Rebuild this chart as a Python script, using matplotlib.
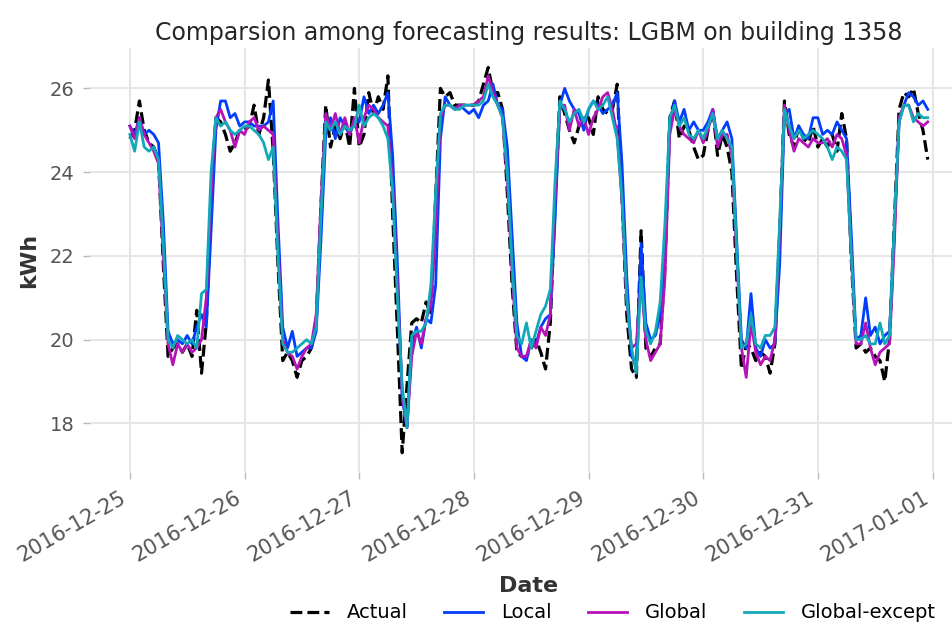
"""Comparison plot of hourly load forecasts (LGBM, building 1358)"""
import pandas as pd
import matplotlib
matplotlib.use('Agg')
import matplotlib.pyplot as plt
import matplotlib.dates as mdates


### data (hourly kWh, 2016-12-25 00:00 onwards, one row per day) ###

start = '2016-12-25'

actual = [
    24.8, 25.0, 25.7, 25.0, 24.7, 24.6, 24.3, 21.8, 19.6, 19.8, 19.9, 19.7, 19.9, 19.6, 20.7, 19.2, 20.4, 23.5, 25.3, 25.2, 24.9, 24.5, 24.7, 25.0,
    25.0, 25.1, 25.6, 24.9, 25.3, 26.2, 24.5, 21.8, 19.5, 19.7, 19.5, 19.1, 19.5, 19.6, 19.8, 20.4, 23.2, 25.6, 24.6, 25.1, 24.8, 25.2, 24.6, 26.0,
    24.6, 24.9, 25.9, 25.4, 25.8, 25.5, 26.3, 23.0, 20.2, 17.3, 18.9, 20.4, 20.5, 20.4, 20.9, 20.6, 23.4, 26.0, 25.8, 25.9, 25.6, 25.6, 25.6, 25.6,
    25.6, 25.7, 26.1, 26.5, 25.9, 25.9, 25.5, 23.5, 21.3, 19.7, 19.6, 19.6, 19.8, 20.0, 19.7, 19.3, 20.4, 23.3, 25.8, 25.4, 25.0, 24.7, 25.1, 25.3,
    25.3, 24.9, 25.8, 25.5, 25.4, 25.5, 26.1, 23.4, 20.6, 19.3, 19.1, 22.6, 19.8, 19.6, 19.8, 19.9, 21.8, 25.3, 25.7, 24.8, 25.1, 25.0, 24.6, 24.3,
    24.4, 25.0, 25.5, 24.4, 24.9, 24.6, 24.0, 21.5, 19.3, 19.9, 19.8, 19.5, 19.7, 19.6, 19.2, 19.9, 22.5, 25.7, 24.9, 24.6, 25.1, 24.8, 24.7, 25.1,
    24.6, 24.8, 24.6, 24.9, 24.5, 25.4, 24.8, 21.9, 19.8, 19.9, 19.7, 19.8, 19.6, 19.5, 19.0, 20.0, 22.8, 25.5, 25.9, 25.8, 26.0, 25.4, 25.0, 24.3,
]

local = [
    25.1, 24.9, 25.3, 24.9, 25.0, 24.9, 24.7, 22.8, 20.2, 19.9, 20.0, 19.9, 20.1, 19.9, 20.3, 20.6, 20.3, 22.6, 25.0, 25.7, 25.7, 25.3, 25.4, 25.1,
    25.2, 25.2, 25.1, 25.1, 25.1, 25.2, 25.7, 22.8, 20.3, 19.8, 20.2, 19.6, 19.7, 19.8, 19.8, 20.2, 22.4, 24.9, 25.3, 24.8, 25.3, 25.1, 24.9, 25.2,
    25.2, 25.8, 25.4, 25.6, 25.4, 25.6, 25.9, 24.4, 21.8, 18.6, 17.9, 19.9, 20.3, 19.8, 20.5, 20.4, 21.3, 24.8, 25.8, 25.6, 25.5, 25.6, 25.5, 25.4,
    25.5, 25.3, 25.6, 25.7, 26.1, 25.6, 25.5, 24.6, 22.5, 20.4, 19.6, 19.5, 20.0, 19.9, 20.3, 20.5, 20.6, 22.9, 25.6, 26.0, 25.7, 25.5, 25.4, 25.0,
    25.5, 25.7, 25.6, 25.4, 25.5, 25.6, 25.9, 24.2, 21.5, 19.6, 19.4, 22.3, 20.4, 20.0, 20.1, 20.6, 22.0, 25.2, 25.7, 25.2, 25.5, 25.0, 25.2, 25.0,
    25.0, 25.2, 25.5, 24.8, 25.0, 25.2, 24.8, 22.4, 20.0, 19.8, 21.1, 19.8, 19.6, 20.0, 19.8, 19.9, 21.8, 25.4, 25.5, 24.8, 25.1, 24.9, 24.8, 25.3,
    25.3, 24.9, 25.0, 24.9, 25.2, 25.0, 24.8, 22.5, 20.0, 20.1, 21.0, 20.1, 20.3, 19.9, 20.1, 20.2, 22.6, 25.2, 25.6, 25.9, 25.8, 25.6, 25.7, 25.5,
]

glob = [
    25.1, 24.8, 25.3, 24.9, 24.7, 24.5, 24.2, 22.0, 19.9, 19.4, 19.9, 19.7, 19.9, 19.7, 19.8, 20.0, 21.0, 23.5, 25.3, 25.5, 25.2, 25.0, 24.6, 25.0,
    24.9, 25.2, 25.3, 25.0, 25.1, 25.0, 24.9, 22.3, 20.0, 19.7, 19.6, 19.3, 19.6, 19.8, 19.9, 20.6, 23.3, 25.4, 25.0, 25.4, 24.9, 25.3, 24.9, 25.3,
    24.7, 25.3, 25.6, 25.5, 25.3, 25.2, 25.1, 23.7, 21.3, 18.7, 17.9, 19.6, 20.2, 19.9, 20.5, 20.8, 22.6, 25.3, 25.6, 25.6, 25.5, 25.6, 25.6, 25.6,
    25.6, 25.7, 25.8, 26.3, 25.9, 25.6, 25.3, 23.8, 21.6, 19.8, 19.6, 19.6, 20.0, 19.8, 20.3, 20.1, 20.6, 23.4, 25.5, 25.6, 25.0, 25.5, 25.1, 25.3,
    24.9, 25.3, 25.5, 25.8, 25.9, 25.5, 24.9, 23.3, 20.9, 19.8, 19.9, 21.4, 20.0, 19.5, 19.7, 19.9, 21.5, 24.9, 25.5, 25.1, 24.9, 24.8, 24.7, 25.0,
    24.7, 25.0, 25.5, 24.6, 24.9, 24.9, 24.4, 22.0, 19.8, 19.1, 20.4, 19.7, 19.4, 19.6, 19.5, 20.0, 22.6, 25.6, 25.0, 24.5, 24.8, 24.7, 24.6, 24.8,
    24.7, 24.7, 24.8, 24.6, 24.9, 24.8, 24.4, 22.0, 19.9, 19.9, 20.4, 19.8, 19.4, 19.7, 19.8, 19.9, 22.3, 25.3, 25.6, 25.6, 25.3, 25.2, 25.1, 25.2,
]

glob_except = [
    24.9, 24.5, 25.2, 24.6, 24.5, 24.6, 24.3, 22.3, 20.0, 19.8, 20.1, 20.0, 19.9, 20.0, 19.8, 21.1, 21.2, 24.0, 25.3, 25.1, 25.2, 25.0, 24.9, 25.0,
    25.1, 25.1, 25.0, 24.9, 24.7, 24.3, 24.6, 22.0, 19.9, 19.7, 19.7, 19.8, 19.9, 20.0, 19.9, 20.3, 23.0, 25.2, 25.0, 25.2, 24.9, 25.1, 25.0, 25.1,
    25.6, 25.1, 25.3, 25.4, 25.3, 25.1, 24.8, 23.5, 21.0, 18.9, 17.9, 20.1, 20.2, 20.2, 20.4, 21.3, 23.5, 25.4, 25.6, 25.6, 25.5, 25.5, 25.6, 25.6,
    25.6, 25.6, 25.7, 26.1, 25.8, 25.6, 25.3, 24.0, 21.8, 20.1, 19.9, 20.4, 19.8, 20.2, 20.6, 20.8, 21.2, 23.8, 25.7, 25.5, 25.2, 25.4, 25.5, 25.2,
    25.5, 25.7, 25.5, 25.6, 25.8, 25.3, 24.8, 23.4, 21.0, 19.8, 19.2, 21.5, 20.2, 19.9, 20.2, 20.9, 22.8, 25.3, 25.6, 25.1, 25.3, 24.9, 24.8, 25.0,
    24.8, 25.1, 25.4, 24.8, 25.0, 24.8, 24.6, 22.2, 19.8, 19.9, 20.6, 19.9, 19.8, 20.1, 20.1, 20.3, 22.8, 25.5, 25.1, 24.8, 25.0, 24.8, 24.9, 25.0,
    24.9, 24.8, 24.6, 24.3, 24.6, 24.5, 24.3, 22.0, 20.0, 20.0, 20.1, 19.9, 19.9, 20.4, 19.9, 20.1, 22.8, 25.2, 25.6, 25.6, 25.2, 25.4, 25.3, 25.3,
]

dates = pd.date_range(start, periods=len(actual), freq='h')


### plot (darts-like look) ###

fig = plt.figure(figsize=(9.53, 6.26), dpi=100)
# axes runs a bit past the right edge, like the cropped original
ax = fig.add_axes([0.0944, 0.246, 0.921, 0.677])

ax.plot(dates, actual, color='black', linestyle='--', linewidth=2.3, label='Actual')
ax.plot(dates, local, color='#003DFD', linewidth=2.0, label='Local')
ax.plot(dates, glob, color='#b512b8', linewidth=2.0, label='Global')
ax.plot(dates, glob_except, color='#11a9ba', linewidth=2.0, label='Global-except')

ax.xaxis.set_major_locator(mdates.DayLocator())
ax.xaxis.set_major_formatter(mdates.DateFormatter('%Y-%m-%d'))
for lbl in ax.get_xticklabels():
    lbl.set_rotation(30)
    lbl.set_ha('right')

for s in ax.spines.values():
    s.set_visible(False)
ax.grid(True, color='#e6e6e6', linewidth=1.5)
ax.set_axisbelow(True)
ax.tick_params(axis='both', colors='#bbbbbb', labelcolor='#555555',
               length=5, width=1, pad=6)
ax.tick_params(axis='x', labelsize=15)
ax.tick_params(axis='y', labelsize=14)

ax.set_title('Comparsion among forecasting results: LGBM on building 1358',
             fontsize=17, color='#262626')
ax.set_xlabel('Date', fontsize=16, fontweight='bold', color='#333333', labelpad=8)
ax.set_ylabel('kWh', fontsize=16, fontweight='bold', color='#333333', labelpad=8)

fig.legend(loc='center right', bbox_to_anchor=(1.0, 0.021), ncol=4,
           frameon=False, fontsize=14, handlelength=2.0, handletextpad=0.9,
           columnspacing=1.9)

plt.savefig('out.png', dpi=100)
